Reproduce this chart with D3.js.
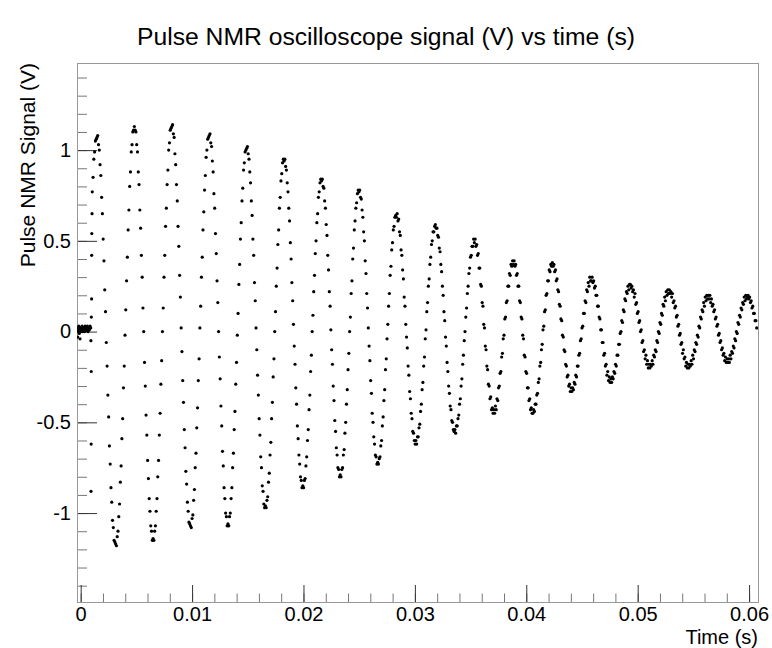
<!DOCTYPE html>
<html>
<head>
<meta charset="utf-8">
<script src="https://cdn.jsdelivr.net/npm/d3@7"></script>
<style>
body { margin: 0; background: #fff; }
svg { display: block; }
</style>
</head>
<body>
<svg width="772" height="648"></svg>
<script>
"use strict";

// pre-trigger baseline (s, V)
const baseT = [-0.00030, -0.00027, -0.00024, -0.00020, -0.00017, -0.00013, -0.00010, -0.00006, -0.00003, 0.00001,
	0.00005, 0.00009, 0.00013, 0.00017, 0.00021, 0.00026, 0.00030, 0.00035, 0.00040, 0.00045,
	0.00050, 0.00055, 0.00060, 0.00066, 0.00072, 0.00078, 0.00084, 0.00090]
const baseV = [0.01, -0.03, 0.02, 0.00, 0.03, -0.01, 0.01, -0.04, 0.02, 0.00,
	0.02, 0.01, 0.03, 0.00, 0.02, 0.01, 0.02, 0.00, 0.03, 0.01,
	0.02, 0.01, 0.03, 0.00, 0.02, 0.01, 0.03, 0.02]

// the pulse kick
const kickT = [0.00092, 0.00093, 0.00094, 0.00095, 0.00096, 0.00098, 0.00099, 0.00100, 0.00102]
const kickV = [-0.05, -0.88, -0.62, -0.22, 0.08, 0.18, 0.42, 0.54, 0.65]

// ringdown, one sample every dt from t0
const t0 = 0.00104
const dt = 0.00007
const signal = [
	0.77,0.85,0.95,0.99,1.05,1.06,
	1.07,1.08,1.03,1.00,0.92,0.86,0.74,0.65,0.51,0.39,0.23,0.11,-0.06,-0.19,-0.35,-0.47,-0.63,-0.73,-0.86,-0.94,-1.04,-1.08,-1.15,-1.16,
	-1.17,-1.18,-1.13,-1.10,-1.02,-0.95,-0.83,-0.74,-0.59,-0.48,-0.31,-0.19,-0.02,0.12,0.28,0.41,0.56,0.67,0.80,0.88,0.99,1.03,1.10,1.11,
	1.13,1.11,1.10,1.03,0.99,0.88,0.81,0.67,0.57,0.42,0.30,0.13,0.00,-0.17,-0.30,-0.46,-0.57,-0.71,-0.81,-0.92,-0.99,-1.07,-1.10,-1.15,
	-1.14,-1.15,-1.10,-1.07,-0.99,-0.92,-0.80,-0.71,-0.57,-0.45,-0.29,-0.16,0.00,0.13,0.30,0.42,0.58,0.68,0.81,0.89,1.00,1.04,1.11,1.12,
	1.13,1.14,1.09,1.07,0.98,0.92,0.81,0.72,0.58,0.47,0.31,0.19,0.02,-0.11,-0.27,-0.39,-0.54,-0.64,-0.77,-0.84,-0.94,-0.99,-1.05,-1.06,
	-1.07,-1.08,-1.03,-1.01,-0.93,-0.87,-0.75,-0.67,-0.53,-0.42,-0.27,-0.15,0.02,0.14,0.30,0.41,0.56,0.66,0.78,0.86,0.96,1.00,1.06,1.07,
	1.08,1.09,1.04,1.02,0.94,0.88,0.76,0.68,0.54,0.43,0.28,0.16,0.00,-0.14,-0.26,-0.41,-0.52,-0.66,-0.74,-0.86,-0.92,-1.00,-1.02,-1.07,
	-1.06,-1.07,-1.02,-1.00,-0.92,-0.86,-0.75,-0.67,-0.54,-0.44,-0.29,-0.17,-0.02,0.10,0.26,0.37,0.51,0.60,0.72,0.79,0.89,0.93,0.99,1.00,
	1.01,1.02,0.98,0.95,0.88,0.82,0.72,0.64,0.51,0.42,0.27,0.17,0.02,-0.10,-0.24,-0.35,-0.48,-0.57,-0.69,-0.75,-0.85,-0.88,-0.95,-0.97,
	-0.96,-0.97,-0.93,-0.91,-0.83,-0.78,-0.68,-0.61,-0.48,-0.39,-0.25,-0.15,0.00,0.11,0.25,0.35,0.48,0.56,0.68,0.74,0.83,0.87,0.93,0.95,
	0.94,0.95,0.91,0.89,0.82,0.77,0.68,0.61,0.49,0.40,0.27,0.17,0.04,-0.08,-0.18,-0.31,-0.40,-0.52,-0.59,-0.68,-0.73,-0.80,-0.82,-0.86,
	-0.85,-0.86,-0.82,-0.81,-0.74,-0.69,-0.60,-0.54,-0.43,-0.35,-0.22,-0.13,0.00,0.09,0.22,0.31,0.43,0.50,0.60,0.65,0.74,0.77,0.82,0.84,
	0.83,0.84,0.80,0.79,0.72,0.68,0.59,0.53,0.42,0.34,0.22,0.14,0.01,-0.10,-0.18,-0.30,-0.38,-0.49,-0.55,-0.64,-0.68,-0.75,-0.76,-0.80,
	-0.79,-0.80,-0.76,-0.75,-0.68,-0.65,-0.56,-0.50,-0.40,-0.32,-0.21,-0.12,0.00,0.08,0.21,0.28,0.40,0.46,0.56,0.61,0.68,0.71,0.76,0.78,
	0.77,0.78,0.74,0.73,0.67,0.63,0.55,0.50,0.39,0.32,0.21,0.13,0.02,-0.08,-0.16,-0.27,-0.34,-0.45,-0.50,-0.58,-0.62,-0.68,-0.69,-0.73,
	-0.72,-0.73,-0.70,-0.69,-0.63,-0.60,-0.52,-0.47,-0.38,-0.32,-0.21,-0.15,-0.04,0.04,0.14,0.21,0.31,0.36,0.45,0.49,0.56,0.58,0.63,0.64,
	0.63,0.65,0.61,0.62,0.55,0.53,0.45,0.42,0.34,0.29,0.19,0.14,0.04,-0.03,-0.09,-0.19,-0.24,-0.33,-0.37,-0.45,-0.48,-0.55,-0.56,-0.60,-0.62,
	-0.60,-0.62,-0.58,-0.58,-0.53,-0.51,-0.44,-0.40,-0.32,-0.28,-0.19,-0.14,-0.04,0.01,0.11,0.16,0.25,0.29,0.37,0.41,0.48,0.50,0.55,0.55,0.58,
	0.59,0.57,0.57,0.53,0.52,0.46,0.44,0.37,0.33,0.25,0.20,0.11,0.06,-0.03,-0.08,-0.17,-0.22,-0.30,-0.34,-0.41,-0.43,-0.49,-0.50,-0.54,-0.55,
	-0.54,-0.56,-0.52,-0.52,-0.48,-0.46,-0.40,-0.37,-0.30,-0.26,-0.18,-0.13,-0.05,0.00,0.08,0.13,0.21,0.25,0.32,0.35,0.41,0.42,0.47,0.47,0.51,
	0.49,0.51,0.47,0.48,0.42,0.43,0.35,0.35,0.26,0.25,0.16,0.14,0.04,0.02,-0.08,-0.10,-0.19,-0.21,-0.29,-0.30,-0.37,-0.36,-0.43,-0.42,-0.45,
	-0.43,-0.45,-0.41,-0.43,-0.37,-0.38,-0.31,-0.30,-0.23,-0.22,-0.14,-0.12,-0.04,-0.02,0.07,0.08,0.16,0.17,0.25,0.25,0.32,0.31,0.37,0.36,0.39,
	0.37,0.39,0.36,0.37,0.31,0.32,0.25,0.25,0.17,0.16,0.08,0.07,-0.02,-0.04,-0.13,-0.14,-0.22,-0.23,-0.31,-0.31,-0.38,-0.37,-0.43,-0.42,-0.45,
	-0.45,-0.43,-0.44,-0.40,-0.40,-0.35,-0.34,-0.28,-0.26,-0.19,-0.17,-0.10,-0.07,0.01,0.03,0.11,0.12,0.20,0.21,0.28,0.28,0.34,0.33,0.37,0.36,
	0.38,0.36,0.37,0.33,0.34,0.28,0.29,0.23,0.22,0.15,0.14,0.07,0.06,-0.02,-0.03,-0.10,-0.11,-0.18,-0.19,-0.25,-0.24,-0.30,-0.29,-0.33,-0.31,
	-0.33,-0.31,-0.32,-0.28,-0.29,-0.24,-0.25,-0.19,-0.19,-0.13,-0.12,-0.05,-0.04,0.02,0.03,0.10,0.10,0.17,0.16,0.23,0.22,0.27,0.25,0.30,0.28,
	0.28,0.30,0.27,0.28,0.24,0.25,0.20,0.20,0.14,0.14,0.08,0.07,0.01,0.01,-0.06,-0.06,-0.13,-0.12,-0.19,-0.18,-0.24,-0.22,-0.27,-0.25,-0.28,
	-0.26,-0.28,-0.25,-0.26,-0.22,-0.23,-0.18,-0.19,-0.13,-0.13,-0.07,-0.07,-0.01,0.00,0.06,0.05,0.12,0.11,0.18,0.17,0.22,0.21,0.25,0.23,0.26,
	0.26,0.24,0.25,0.22,0.23,0.19,0.21,0.15,0.16,0.10,0.11,0.05,0.06,0.00,0.01,-0.06,-0.05,-0.11,-0.10,-0.15,-0.13,-0.18,-0.16,-0.20,-0.18,
	-0.20,-0.18,-0.19,-0.16,-0.18,-0.13,-0.14,-0.10,-0.11,-0.05,-0.06,0.00,-0.01,0.05,0.04,0.10,0.09,0.15,0.14,0.19,0.17,0.22,0.20,0.23,0.21,
	0.23,0.21,0.22,0.19,0.21,0.16,0.17,0.13,0.14,0.08,0.09,0.03,0.04,-0.02,-0.01,-0.07,-0.06,-0.12,-0.10,-0.15,-0.14,-0.19,-0.17,-0.20,-0.18,
	-0.20,-0.18,-0.19,-0.16,-0.18,-0.13,-0.15,-0.10,-0.11,-0.06,-0.07,-0.02,-0.03,0.03,0.02,0.08,0.07,0.12,0.11,0.16,0.14,0.19,0.17,0.20,0.18,
	0.20,0.18,0.20,0.16,0.18,0.14,0.15,0.11,0.12,0.07,0.08,0.03,0.04,-0.02,-0.01,-0.06,-0.05,-0.10,-0.09,-0.13,-0.12,-0.16,-0.14,-0.17,-0.15,
	-0.17,-0.15,-0.17,-0.13,-0.15,-0.11,-0.12,-0.08,-0.09,-0.04,-0.05,0.00,-0.01,0.05,0.04,0.09,0.08,0.13,0.12,0.16,0.15,0.19,0.17,0.20,0.18,
	0.19,0.20,0.18,0.19,0.16,0.17,0.13,0.14,0.10,0.10,0.06,0.06,0.02
]

const xTicks = [0, 0.01, 0.02, 0.03, 0.04, 0.05, 0.06]
const yTicks = [-1, -0.5, 0, 0.5, 1]
const xRange = [-0.00033, 0.0608]
const yRange = [-1.49, 1.48]

const font = '"Liberation Sans", Arial, Helvetica, sans-serif'
const frame = {left: 77, right: 758, top: 63, bottom: 602}

const x = d3.scaleLinear().domain(xRange).range([frame.left, frame.right])
const y = d3.scaleLinear().domain(yRange).range([frame.bottom, frame.top])

const points = [].concat(
	baseT.map((t, i) => [t, baseV[i]]),
	kickT.map((t, i) => [t, kickV[i]]),
	signal.map((v, i) => [t0 + i * dt, v])
)

const svg = d3.select('svg')

svg.append('clipPath').attr('id', 'clip')
	.append('rect')
	.attr('x', frame.left).attr('y', frame.top)
	.attr('width', frame.right - frame.left).attr('height', frame.bottom - frame.top)

// minor ticks
const xMinor = d3.range(0, 0.0605, 0.002)
const yMinor = d3.range(-14, 15).map(d => d / 10)

svg.append('g')
	.attr('transform', `translate(0,${frame.bottom})`)
	.call(d3.axisBottom(x).tickValues(xMinor).tickSize(-8.5).tickFormat(''))
	.call(g => g.select('.domain').remove())
	.selectAll('line').attr('stroke', '#777')

svg.append('g')
	.attr('transform', `translate(${frame.left},0)`)
	.call(d3.axisLeft(y).tickValues(yMinor).tickSize(-10).tickFormat(''))
	.call(g => g.select('.domain').remove())
	.selectAll('line').attr('stroke', '#777')

// major ticks + labels
svg.append('g')
	.attr('transform', `translate(0,${frame.bottom})`)
	.call(d3.axisBottom(x).tickValues(xTicks).tickSize(-17).tickPadding(5).tickFormat(d => String(d)))
	.call(g => g.select('.domain').remove())
	.call(g => g.attr('font-family', font).attr('font-size', 20))
	.call(g => g.selectAll('line').attr('stroke', '#333'))

svg.append('g')
	.attr('transform', `translate(${frame.left},0)`)
	.call(d3.axisLeft(y).tickValues(yTicks).tickSize(-20).tickPadding(6).tickFormat(d => String(d)))
	.call(g => g.select('.domain').remove())
	.call(g => g.attr('font-family', font).attr('font-size', 20))
	.call(g => g.selectAll('line').attr('stroke', '#333'))

svg.append('rect')
	.attr('x', frame.left + 0.5).attr('y', frame.top + 0.5)
	.attr('width', frame.right - frame.left).attr('height', frame.bottom - frame.top)
	.attr('fill', 'none').attr('stroke', '#999')

svg.append('g')
	.attr('clip-path', 'url(#clip)')
	.selectAll('circle')
	.data(points)
	.join('circle')
	.attr('cx', d => x(d[0]))
	.attr('cy', d => y(d[1]))
	.attr('r', 1.6)
	.attr('fill', '#000')

svg.append('text')
	.attr('x', 386).attr('y', 45)
	.attr('text-anchor', 'middle')
	.attr('font-family', font).attr('font-size', 24.7)
	.text('Pulse NMR oscilloscope signal (V) vs time (s)')

svg.append('text')
	.attr('transform', `translate(35,${frame.top}) rotate(-90)`)
	.attr('text-anchor', 'end')
	.attr('font-family', font).attr('font-size', 21)
	.text('Pulse NMR Signal (V)')

svg.append('text')
	.attr('x', frame.right).attr('y', 644)
	.attr('text-anchor', 'end')
	.attr('font-family', font).attr('font-size', 20)
	.text('Time (s)')
</script>
</body>
</html>
